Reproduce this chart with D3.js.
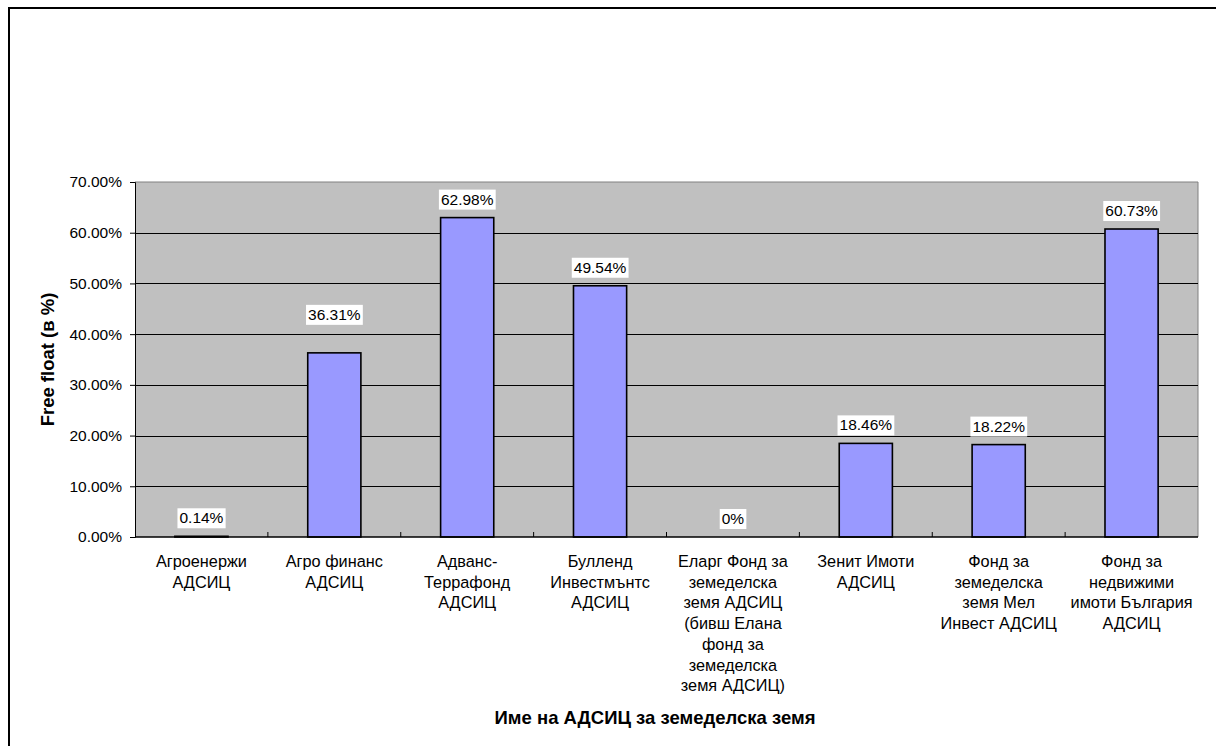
<!DOCTYPE html>
<html><head><meta charset="utf-8">
<script src="https://cdn.jsdelivr.net/npm/d3@7"></script>
<style>body{margin:0;background:#fff}svg{display:block;font-family:Arial,"Liberation Sans",sans-serif}</style>
</head><body><svg id="c" width="1216" height="746"></svg>
<script>
const categories = [
  ["Агроенержи","АДСИЦ"],
  ["Агро финанс","АДСИЦ"],
  ["Адванс-","Террафонд","АДСИЦ"],
  ["Булленд","Инвестмънтс","АДСИЦ"],
  ["Еларг Фонд за","земеделска","земя АДСИЦ","(бивш Елана","фонд за","земеделска","земя АДСИЦ)"],
  ["Зенит Имоти","АДСИЦ"],
  ["Фонд за","земеделска","земя Мел","Инвест АДСИЦ"],
  ["Фонд за","недвижими","имоти България","АДСИЦ"]
];
const values = [0.14, 36.31, 62.98, 49.54, 0, 18.46, 18.22, 60.73];
const valueLabels = ["0.14%","36.31%","62.98%","49.54%","0%","18.46%","18.22%","60.73%"];
const yTicks = [0,10,20,30,40,50,60,70];
const yTitle = "Free float (в %)";
const xTitle = "Име на АДСИЦ за земеделска земя";

const svg = d3.select("#c");
const L = 135, R = 1198, T = 182, B = 537;
const FONT = "Arial, 'Liberation Sans', sans-serif";

// outer frame
svg.append("rect").attr("x",9).attr("y",8).attr("width",1230).attr("height",760)
  .attr("fill","none").attr("stroke","#000").attr("stroke-width",2);

const x = d3.scaleBand().domain(d3.range(categories.length)).range([L,R]).paddingInner(0.6).paddingOuter(0.3);
const y = d3.scaleLinear().domain([0,70]).range([B,T]);

// plot background
svg.append("rect").attr("x",L).attr("y",T).attr("width",R-L).attr("height",B-T).attr("fill","#C0C0C0");
svg.append("path").attr("d",`M${L},${T}H${R}V${B}`).attr("fill","none").attr("stroke","#808080").attr("stroke-width",1);

// gridlines
svg.append("g").selectAll("line").data(yTicks.filter(t=>t>0 && t<70)).join("line")
  .attr("x1",L).attr("x2",R).attr("y1",d=>Math.round(y(d))+0.5).attr("y2",d=>Math.round(y(d))+0.5)
  .attr("stroke","#000").attr("stroke-width",1);

// y axis
const yAxis = d3.axisLeft(y).tickValues(yTicks).tickSize(5).tickPadding(8).tickFormat(d=>d.toFixed(2)+"%");
const gy = svg.append("g").attr("transform",`translate(${L},0)`).call(yAxis);
gy.attr("font-family",FONT);
gy.select(".domain").attr("stroke","#000");
gy.selectAll("text").attr("font-size",15.5).attr("fill","#000");

// bars
svg.append("g").selectAll("rect").data(values).join("rect")
  .attr("x",(d,i)=>x(i)).attr("width",x.bandwidth())
  .attr("y",d=>y(d)).attr("height",d=>B-y(d))
  .attr("fill","#9999FF").attr("stroke","#000").attr("stroke-width",1.6);

// x axis (ticks between categories, pointing up)
const bounds = d3.range(categories.length+1).map(i=>L + i*(R-L)/categories.length);
svg.append("line").attr("x1",L).attr("x2",R).attr("y1",B).attr("y2",B).attr("stroke","#000").attr("stroke-width",1.5);
svg.append("g").selectAll("line").data(bounds.slice(1,-1)).join("line")
  .attr("x1",d=>d).attr("x2",d=>d).attr("y1",B).attr("y2",B-5).attr("stroke","#000");

// category labels
const cg = svg.append("g").attr("font-size",16.3).attr("fill","#000").attr("text-anchor","middle");
categories.forEach((lines,i)=>{
  const cx = x(i)+x.bandwidth()/2;
  const t = cg.append("text").attr("x",cx).attr("y",567);
  lines.forEach((ln,j)=>t.append("tspan").attr("x",cx).attr("y",567+j*20.7).text(ln));
});

// data labels (Excel placed the 36.31% label higher than the others)
const labelLift = [0,20,0,0,0,0,0,0];
const lg = svg.append("g");
values.forEach((v,i)=>{
  const cx = x(i)+x.bandwidth()/2;
  const by = y(v) - 8 - labelLift[i];
  const t = lg.append("text").attr("x",cx).attr("y",by-5).attr("text-anchor","middle")
    .attr("font-size",15.5).attr("fill","#000").text(valueLabels[i]);
  const bb = t.node().getBBox();
  lg.insert("rect","text").attr("x",bb.x-2).attr("y",by-20).attr("width",bb.width+4).attr("height",20).attr("fill","#fff");
});
lg.selectAll("text").raise();

// axis titles
svg.append("text").attr("transform",`translate(54,${(T+B)/2}) rotate(-90)`).attr("text-anchor","middle")
  .attr("font-size",18.5).attr("font-weight","bold").text(yTitle);
svg.append("text").attr("x",655).attr("y",724).attr("text-anchor","middle")
  .attr("font-size",18.5).attr("font-weight","bold").text(xTitle);
</script></body></html>
